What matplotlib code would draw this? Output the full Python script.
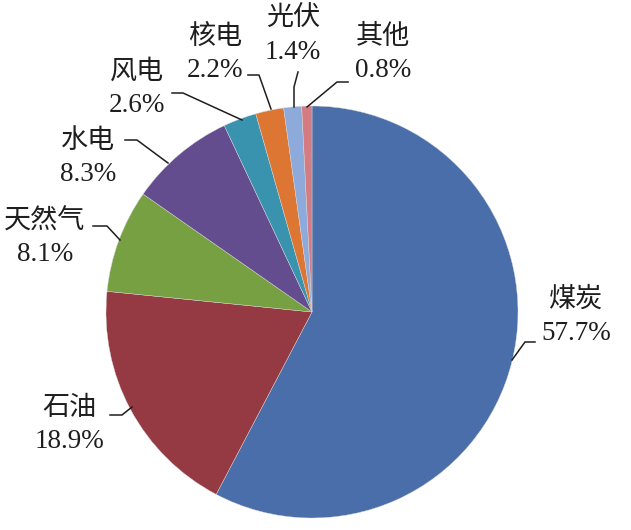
import matplotlib
matplotlib.use('agg')
import matplotlib.pyplot as plt

plt.rcParams['font.family'] = ['Liberation Serif', 'Noto Sans CJK SC']

# data
categories = ['煤炭', '石油', '天然气', '水电', '风电', '核电', '光伏', '其他']
shares = [57.7, 18.9, 8.1, 8.3, 2.6, 2.2, 1.4, 0.8]
colors = ['#4a6eaa', '#953a42', '#77a043', '#634d8e', '#3a93ae', '#dd7633', '#8eaadb', '#d47c84']

# label centres (pixels, origin top-left) and leader lines
label_pos = [(576, 317), (69, 425), (45, 238), (88, 158), (137, 89), (215, 54), (293, 36), (383, 54)]
leaders = [
    [(535, 342), (525, 342), (512, 360)],
    [(110, 415), (122, 415), (132, 407)],
    [(93, 226), (107, 226), (120, 240)],
    [(125, 140), (137, 140), (168, 163)],
    [(172, 93), (183, 93), (242, 120)],
    [(248, 75), (259, 75), (271, 109)],
    [(298, 72), (294, 87), (294, 107)],
    [(348, 82), (337, 82), (307, 107)],
]

W, H = 631, 530
fig = plt.figure(figsize=(W / 100, H / 100), dpi=100)
ax = fig.add_axes([0, 0, 1, 1])

ax.pie(shares, colors=colors, startangle=90, counterclock=False,
       center=(312, H - 312), radius=206,
       wedgeprops=dict(linewidth=0.3, edgecolor='#d8d8d8'))

# pie() resets the limits, so set them afterwards
ax.set_xlim(0, W)
ax.set_ylim(0, H)
ax.set_aspect('equal')
ax.axis('off')

for name, val, (x, y) in zip(categories, shares, label_pos):
    ax.text(x, H - y, '%s\n%.1f%%' % (name, val), ha='center', va='center',
            fontsize=19.5, linespacing=1.42, color='#1e1e1e')

for pts in leaders:
    xs = [p[0] for p in pts]
    ys = [H - p[1] for p in pts]
    ax.plot(xs, ys, color='#1e1e1e', linewidth=1.1)

plt.savefig('out.png', dpi=100)
